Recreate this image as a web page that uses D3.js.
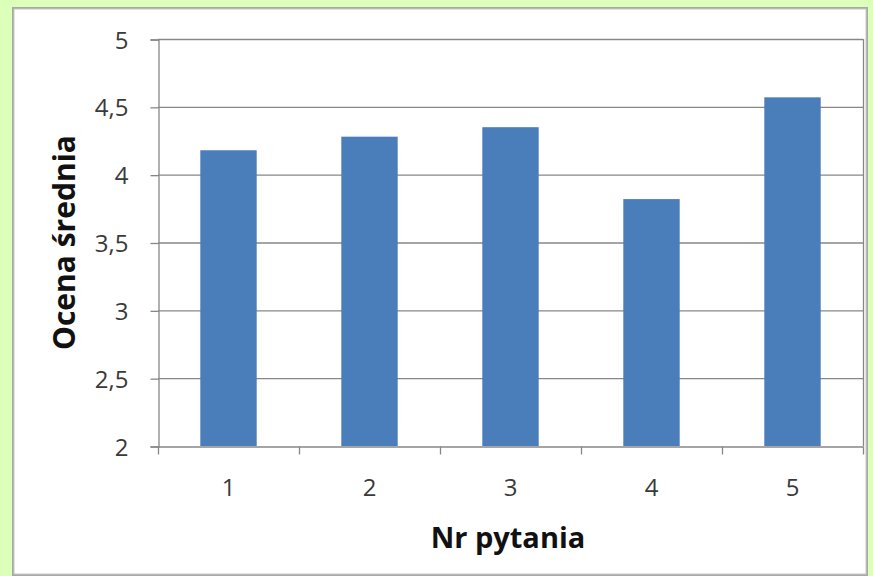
<!DOCTYPE html>
<html>
<head>
<meta charset="utf-8">
<script src="https://cdn.jsdelivr.net/npm/d3@7"></script>
<style>
html,body{margin:0;padding:0;background:#dcffb9;}
svg{display:block;}
</style>
</head>
<body>
<script>
const categories = ["1", "2", "3", "4", "5"];
const values = [4.18, 4.28, 4.35, 3.82, 4.57];
const yTicks = [2, 2.5, 3, 3.5, 4, 4.5, 5];
const yTitle = "Ocena średnia";
const xTitle = "Nr pytania";

const W = 873, H = 576;
const svg = d3.select("body").append("svg").attr("width", W).attr("height", H);

svg.append("rect").attr("width", W).attr("height", H).attr("fill", "#dcffb9");
svg.append("rect").attr("x", 12).attr("y", 7).attr("width", 856).attr("height", 570)
  .attr("fill", "#a8a8a8");
svg.append("rect").attr("x", 14).attr("y", 9).attr("width", 852).attr("height", 565)
  .attr("fill", "#ffffff").attr("stroke", "#c8c8c8").attr("stroke-width", 1);

const plot = {left: 158, top: 39, right: 863, bottom: 446};

const x = d3.scaleBand().domain(categories).range([plot.left, plot.right]).paddingInner(0.6).paddingOuter(0.3);
const xb = d3.scaleBand().domain(categories).range([plot.left, plot.right]).padding(0);
const y = d3.scaleLinear().domain([2, 5]).range([plot.bottom, plot.top]);

const fontTick = "'Open Sans', 'Liberation Sans', sans-serif";

svg.append("g").selectAll("line").data(yTicks.filter(d => d > 2)).join("line")
  .attr("x1", plot.left).attr("x2", plot.right)
  .attr("y1", d => y(d) + 0.5).attr("y2", d => y(d) + 0.5)
  .attr("stroke", "#878787").attr("stroke-width", 1.3);

svg.append("line").attr("x1", plot.right + 0.5).attr("x2", plot.right + 0.5)
  .attr("y1", plot.top).attr("y2", plot.bottom).attr("stroke", "#878787").attr("stroke-width", 1.3);

svg.append("g").selectAll("rect").data(values).join("rect")
  .attr("x", (d, i) => x(categories[i]))
  .attr("width", x.bandwidth())
  .attr("y", d => y(d))
  .attr("height", d => y(2) - y(d))
  .attr("fill", "#4a7ebb");

const yAxis = d3.axisLeft(y).tickValues(yTicks).tickSize(8).tickPadding(22)
  .tickFormat(d => d3.format("")(d).replace(".", ","));
const gy = svg.append("g").attr("transform", `translate(${plot.left + 0.5},0.5)`).call(yAxis);
gy.select(".domain").attr("stroke", "#878787").attr("stroke-width", 1.3);
gy.selectAll(".tick line").attr("stroke", "#878787").attr("stroke-width", 1.3);
gy.selectAll(".tick text").style("font-family", fontTick).style("font-size", "24px").attr("fill", "#3a3a3a")
  .attr("dy", "0.36em");

const xAxis = d3.axisBottom(xb).tickSize(0).tickPadding(0);
const gx = svg.append("g").attr("transform", `translate(0,${plot.bottom + 0.5})`).call(xAxis);
gx.select(".domain").attr("stroke", "#878787").attr("stroke-width", 1.3);
gx.selectAll(".tick text").style("font-family", fontTick).style("font-size", "24px").attr("fill", "#3a3a3a")
  .attr("dy", null).attr("y", 49);
const bounds = categories.map(c => xb(c)).concat([xb(categories[categories.length - 1]) + xb.bandwidth()]);
gx.append("g").selectAll("line").data(bounds).join("line")
  .attr("x1", d => d + 0.5).attr("x2", d => d + 0.5).attr("y1", 0).attr("y2", 8)
  .attr("stroke", "#878787").attr("stroke-width", 1.3);

svg.append("text").attr("transform", `translate(75,${(plot.top + plot.bottom) / 2}) rotate(-90)`)
  .attr("text-anchor", "middle").style("font-family", fontTick).style("font-weight", "bold")
  .style("font-size", "30px").attr("fill", "#111").text(yTitle);
svg.append("text").attr("x", 508).attr("y", 548)
  .attr("text-anchor", "middle").style("font-family", fontTick).style("font-weight", "bold")
  .style("font-size", "29px").attr("fill", "#111").text(xTitle);
</script>
</body>
</html>
